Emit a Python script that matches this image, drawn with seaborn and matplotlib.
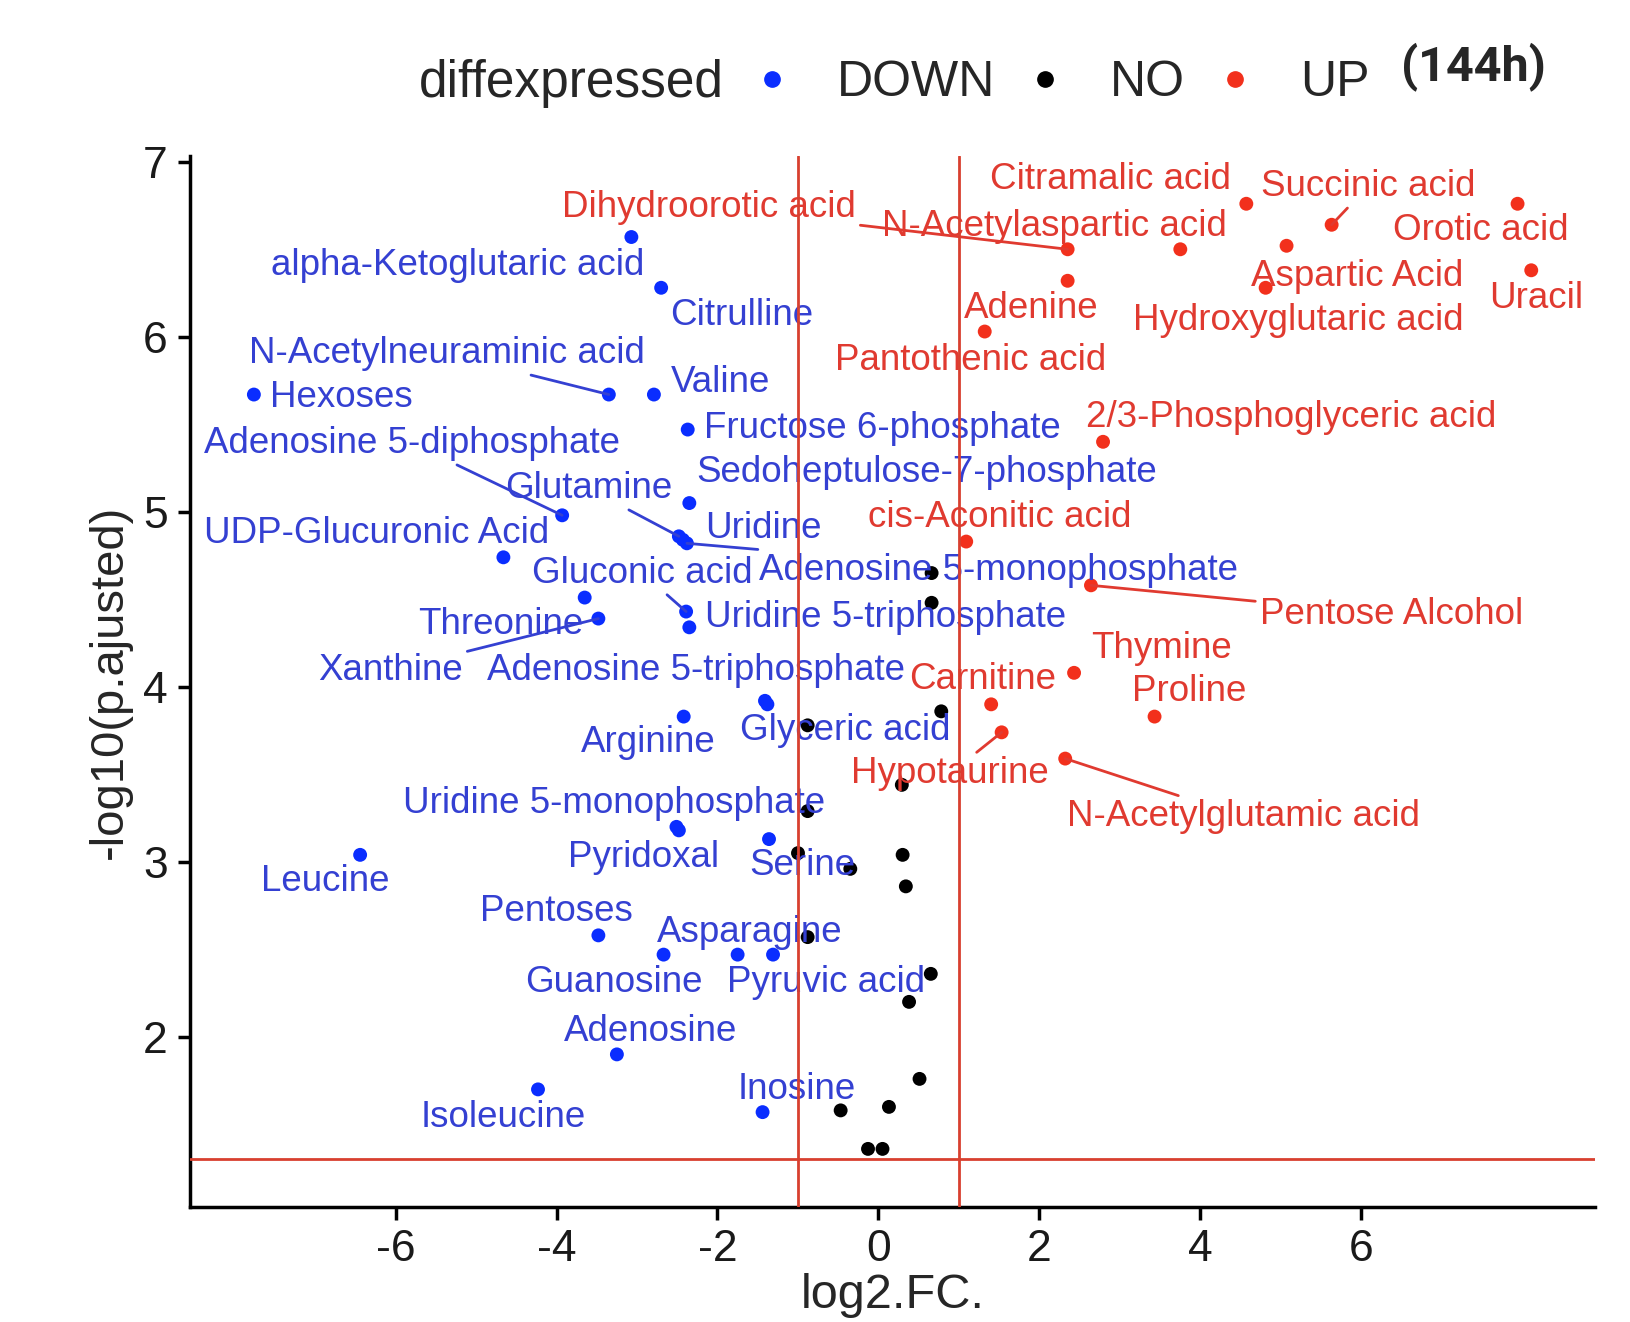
import numpy as np
import pandas as pd
import seaborn as sns
import matplotlib.pyplot as plt
from matplotlib.lines import Line2D
from matplotlib.legend_handler import HandlerTuple

# ---- data (144h) ----
down_names = ["alpha-Ketoglutaric acid", "Citrulline", "N-Acetylneuraminic acid", "Valine",
              "Hexoses", "Fructose 6-phosphate", "Adenosine 5-diphosphate",
              "Sedoheptulose-7-phosphate", "Glutamine", "Uridine", "Adenosine 5-monophosphate",
              "UDP-Glucuronic Acid", "Threonine", "Xanthine", "Gluconic acid",
              "Uridine 5-triphosphate", "Adenosine 5-triphosphate", "Glyceric acid", "Arginine",
              "Uridine 5-monophosphate", "Pyridoxal", "Serine", "Leucine", "Pentoses",
              "Guanosine", "Asparagine", "Pyruvic acid", "Adenosine", "Isoleucine", "Inosine"]
down_fc = [-3.07, -2.70, -3.35, -2.79, -7.76, -2.37, -3.93, -2.35, -2.48, -2.43, -2.38,
           -4.66, -3.65, -3.48, -2.39, -2.35, -1.41, -1.38, -2.42, -2.51, -2.48, -1.36,
           -6.44, -3.48, -2.67, -1.75, -1.31, -3.25, -4.23, -1.44]
down_p = [6.57, 6.28, 5.67, 5.67, 5.67, 5.47, 4.98, 5.05, 4.86, 4.84, 4.82, 4.74, 4.51,
          4.39, 4.43, 4.34, 3.92, 3.90, 3.83, 3.20, 3.18, 3.13, 3.04, 2.58, 2.47, 2.47,
          2.47, 1.90, 1.70, 1.57]

no_fc = [0.66, 0.66, 0.78, -0.88, 0.29, -0.88, -1.00, 0.30, -0.35, 0.34, -0.88, 0.65,
         0.38, 0.51, -0.47, 0.13, -0.13, 0.05]
no_p = [4.65, 4.48, 3.86, 3.78, 3.44, 3.29, 3.05, 3.04, 2.96, 2.86, 2.57, 2.36, 2.20,
        1.76, 1.58, 1.60, 1.36, 1.36]

up_names = ["Citramalic acid", "Succinic acid", "Orotic acid", "Dihydroorotic acid",
            "N-Acetylaspartic acid", "Aspartic Acid", "Adenine", "Hydroxyglutaric acid",
            "Uracil", "Pantothenic acid", "2/3-Phosphoglyceric acid", "cis-Aconitic acid",
            "Pentose Alcohol", "Thymine", "Carnitine", "Hypotaurine", "Proline",
            "N-Acetylglutamic acid"]
up_fc = [4.57, 5.63, 7.94, 2.35, 3.75, 5.07, 2.35, 4.81, 8.11, 1.32, 2.79, 1.09, 2.64,
         2.43, 1.40, 1.53, 3.43, 2.32]
up_p = [6.76, 6.64, 6.76, 6.50, 6.50, 6.52, 6.32, 6.28, 6.38, 6.03, 5.40, 4.83, 4.58,
        4.08, 3.90, 3.74, 3.83, 3.59]

fc_cut = 1
p_cut = -np.log10(0.05)

df = pd.concat([
    pd.DataFrame({"name": down_names, "log2.FC.": down_fc, "p": down_p, "diffexpressed": "DOWN"}),
    pd.DataFrame({"name": [""] * len(no_fc), "log2.FC.": no_fc, "p": no_p, "diffexpressed": "NO"}),
    pd.DataFrame({"name": up_names, "log2.FC.": up_fc, "p": up_p, "diffexpressed": "UP"}),
], ignore_index=True)

# ---- label placement (repel-like offsets, reference pixels, y down) ----
label_offsets = {
    "alpha-Ketoglutaric acid": (-167, 27), "Citrulline": (77, 27),
    "N-Acetylneuraminic acid": (-156, -39), "Valine": (64, -12), "Hexoses": (84, 3),
    "Fructose 6-phosphate": (187, -1), "Adenosine 5-diphosphate": (-144, -69),
    "Sedoheptulose-7-phosphate": (228, -29), "Glutamine": (-87, -46), "Uridine": (77, -11),
    "Adenosine 5-monophosphate": (300, 26), "UDP-Glucuronic Acid": (-122, -23),
    "Gluconic acid": (-42, -37), "Threonine": (-81, 26), "Xanthine": (-200, 50),
    "Uridine 5-triphosphate": (189, -9), "Adenosine 5-triphosphate": (-66, -29),
    "Glyceric acid": (75, 25), "Arginine": (-34, 25), "Uridine 5-monophosphate": (-60, -22),
    "Pyridoxal": (-34, 26), "Serine": (32, 25), "Leucine": (-34, 26), "Pentoses": (-40, -23),
    "Asparagine": (12, -21), "Guanosine": (-48, 27), "Pyruvic acid": (51, 27),
    "Adenosine": (32, -22), "Isoleucine": (-33, 27), "Inosine": (33, -22),
    "Dihydroorotic acid": (-345, -40), "Citramalic acid": (-131, -23),
    "Succinic acid": (35, -37), "N-Acetylaspartic acid": (-121, -22), "Orotic acid": (-35, 26),
    "Aspartic Acid": (68, 30), "Uracil": (5, 27), "Adenine": (-35, 27),
    "Hydroxyglutaric acid": (31, 31), "Pantothenic acid": (-14, 28),
    "2/3-Phosphoglyceric acid": (181, -23), "cis-Aconitic acid": (32, -23),
    "Pentose Alcohol": (289, 28), "Thymine": (84, -23), "Carnitine": (-8, -24),
    "Proline": (33, -24), "Hypotaurine": (-50, 40), "N-Acetylglutamic acid": (171, 56),
}
with_segment = {"N-Acetylneuraminic acid", "Adenosine 5-diphosphate", "Glutamine",
                "Adenosine 5-monophosphate", "Gluconic acid", "Xanthine", "Dihydroorotic acid",
                "Succinic acid", "Pentose Alcohol", "Hypotaurine", "N-Acetylglutamic acid"}

point_colors = {"DOWN": "#0a2dff", "NO": "#000000", "UP": "#f2301c"}
text_colors = {"DOWN": "#3440d2", "UP": "#e03a30"}
line_red = "#d8402f"

sns.set_style("ticks")
plt.rcParams["font.family"] = ["Liberation Sans", "DejaVu Sans"]
plt.rcParams["axes.unicode_minus"] = False

fig = plt.figure(figsize=(16.31, 13.22), dpi=100)
ax = fig.add_axes([0.1165, 0.087, 0.978 - 0.1165, 0.882 - 0.087])

sns.scatterplot(data=df, x="log2.FC.", y="p", hue="diffexpressed", palette=point_colors,
                s=100, edgecolor="none", legend=False, ax=ax, zorder=3)

scale = 1631 / 1568
for _, r in df[df["name"] != ""].iterrows():
    dx, dy = label_offsets[r["name"]]
    col = text_colors[r["diffexpressed"]]
    arrow = None
    if r["name"] in with_segment:
        arrow = dict(arrowstyle="-", color=col, lw=2, shrinkA=1, shrinkB=0)
    ax.annotate(r["name"], xy=(r["log2.FC."], r["p"]), xytext=(dx * scale, -dy * scale),
                textcoords="offset pixels", ha="center", va="center", fontsize=26.5,
                color=col, arrowprops=arrow, zorder=4)

ax.axvline(-fc_cut, color=line_red, lw=2, zorder=5)
ax.axvline(fc_cut, color=line_red, lw=2, zorder=5)
ax.axhline(p_cut, color=line_red, lw=2, zorder=5)

# ggplot-like 5% expansion
xmin, xmax = df["log2.FC."].min(), df["log2.FC."].max()
ymin, ymax = min(df["p"].min(), p_cut), df["p"].max()
ax.set_xlim(xmin - 0.05 * (xmax - xmin), xmax + 0.05 * (xmax - xmin))
ax.set_ylim(ymin - 0.05 * (ymax - ymin), ymax + 0.05 * (ymax - ymin))
ax.set_xticks([-6, -4, -2, 0, 2, 4, 6])
ax.set_yticks([2, 3, 4, 5, 6, 7])

sns.despine(ax=ax)
for s in ["left", "bottom"]:
    ax.spines[s].set_linewidth(2.5)
    ax.spines[s].set_color("black")
ax.tick_params(axis="both", labelsize=32, length=9, width=2.5, colors="black",
               labelcolor="#1a1a1a", pad=7)
ax.set_xlabel("log2.FC.", fontsize=35, labelpad=2)
ax.set_ylabel("-log10(p.ajusted)", fontsize=34, labelpad=8)
ax.grid(False)

# legend on top, title to the left
handles = []
for k in ["DOWN", "NO", "UP"]:
    dot = Line2D([], [], marker="o", ls="", color=point_colors[k], ms=11)
    glyph = Line2D([], [], marker="$a$", ls="", color="white", alpha=0.55, ms=7)
    handles.append((dot, glyph))
fig.text(0.257, 0.937, "diffexpressed", fontsize=37, ha="left", va="center")
fig.legend(handles, ["DOWN", "NO", "UP"], handler_map={tuple: HandlerTuple(ndivide=None)},
           loc="center left", bbox_to_anchor=(0.467, 0.937), ncol=3, frameon=False,
           fontsize=36, handlelength=0.8, handletextpad=0.7, columnspacing=0.8, borderpad=0,
           borderaxespad=0)
fig.text(0.859, 0.950, "(144h)", fontsize=35, fontweight="bold", family="Roboto",
         ha="left", va="center")

fig.savefig("out.png", dpi=100, facecolor="white")
